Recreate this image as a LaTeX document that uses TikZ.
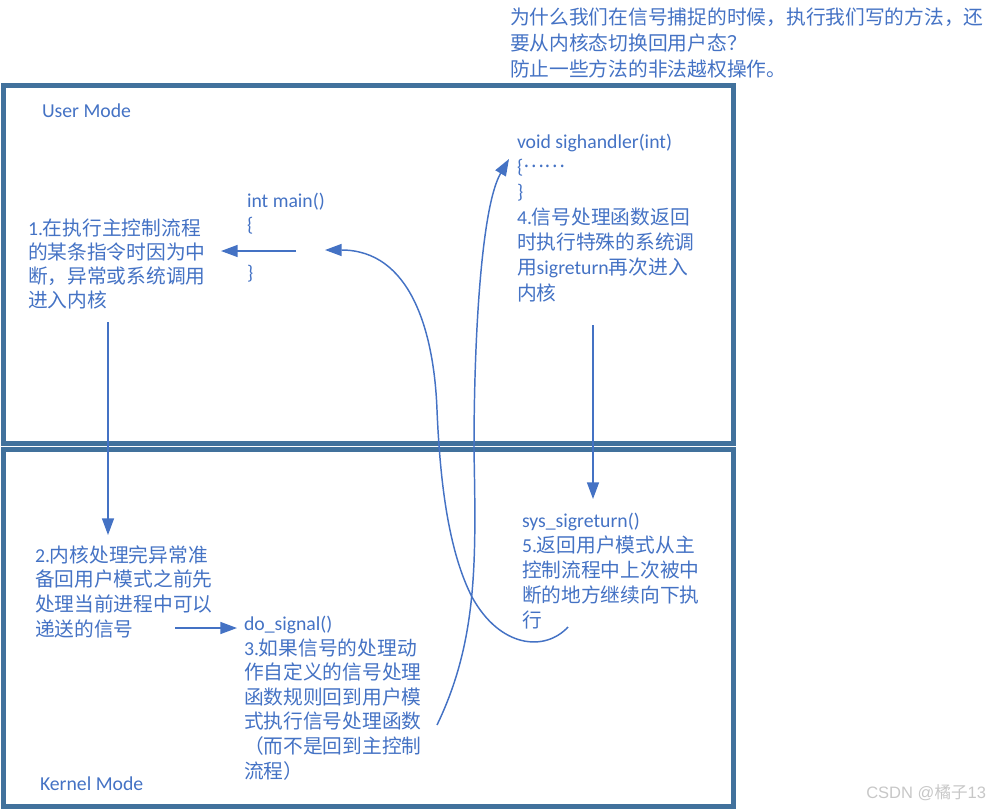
\documentclass[tikz,border=0pt]{standalone}
\usepackage{fontspec}
\setmainfont{Carlito}
\newfontfamily\cjk{Noto Sans CJK SC}
\newfontfamily\wmfont{Liberation Sans}
\usetikzlibrary{arrows.meta}
\definecolor{txtblue}{HTML}{4472C4}
\definecolor{boxblue}{HTML}{41719C}
\newcommand\zh[1]{{\cjk #1}}
\begin{document}
\begin{tikzpicture}[x=0.75pt,y=-0.75pt,
  txt/.style={anchor=base west, inner sep=0pt, outer sep=0pt, text=txtblue, align=left,
    font=\fontsize{14.8pt}{18pt}\selectfont},
  modebox/.style={draw=boxblue, line width=3.75pt},
  arr/.style={draw=txtblue, line width=1.1pt, -{Triangle[length=12.5pt,width=9pt]}}]
\useasboundingbox (0,0) rectangle (999,810);
% mode boxes
\draw[modebox] (3.5,85.5) rectangle (733.5,443.5);
\draw[modebox] (3.5,449.5) rectangle (733.5,806.5);
% texts (base anchor = baseline of the last line)
\node[txt, font=\fontsize{14.8pt}{19.5pt}\selectfont] (q) at (510,76)
  {\zh{为什么我们在信号捕捉的时候，执行我们写的方法，还}\\\zh{要从内核态切换回用户态？}\\\zh{防止一些方法的非法越权操作。}};
\node[txt] (um) at (42,117) {User Mode};
\node[txt] (km) at (40,790) {Kernel Mode};
\node[txt] (main) at (247,279) {int main()\\\{\\~\\\}};
\node[txt] (s1) at (28,307)
  {1.\zh{在执行主控制流程}\\\zh{的某条指令时因为中}\\\zh{断，异常或系统调用}\\\zh{进入内核}};
\node[txt, font=\fontsize{14.8pt}{18.5pt}\selectfont] (s2) at (35,636)
  {2.\zh{内核处理完异常准}\\\zh{备回用户模式之前先}\\\zh{处理当前进程中可以}\\\zh{递送的信号}};
\node[txt, font=\fontsize{14.8pt}{18.4pt}\selectfont] (s3) at (244,778)
  {do\_signal()\\3.\zh{如果信号的处理动}\\\zh{作自定义的信号处理}\\\zh{函数规则回到用户模}\\\zh{式执行信号处理函数}\\\zh{（而不是回到主控制}\\\zh{流程）}};
\node[txt, font=\fontsize{14.8pt}{19pt}\selectfont] (s4) at (517,300)
  {void sighandler(int)\\\{\raisebox{0.3em}{\zh{……}}\\\}\\4.\zh{信号处理函数返回}\\\zh{时执行特殊的系统调}\\\zh{用}sigreturn\zh{再次进入}\\\zh{内核}};
\node[txt, font=\fontsize{14.8pt}{18.75pt}\selectfont] (s5) at (522,627)
  {sys\_sigreturn()\\5.\zh{返回用户模式从主}\\\zh{控制流程中上次被中}\\\zh{断的地方继续向下执}\\\zh{行}};
\node[anchor=base west, inner sep=0pt, text=black!22, font=\wmfont\fontsize{12.4pt}{14pt}\selectfont] (wm) at (866,798) {CSDN @\zh{橘子}13};
% connector end points
\coordinate (a1s) at (296,251);
\coordinate (a1e) at (221,251);
\coordinate (a2s) at (108,322);
\coordinate (a2e) at (108,535);
\coordinate (a3s) at (175,628);
\coordinate (a3e) at (237,628);
\coordinate (a4s) at (593,325);
\coordinate (a4e) at (593,499);
\coordinate (c1s) at (568,627);
\coordinate (c1e) at (325,250);
\coordinate (c2s) at (437,725);
\coordinate (c2e) at (509,159);
% connectors
\draw[arr] (a1s) -- (a1e);
\draw[arr] (a2s) -- (a2e);
\draw[arr] (a3s) -- (a3e);
\draw[arr] (a4s) -- (a4e);
\draw[arr] (c1s) .. controls (545,652) and (500,648) .. (472,597)
  .. controls (448,550) and (440,480) .. (437,410)
  .. controls (434,330) and (410,250) .. (c1e);
\draw[arr] (c2s) .. controls (478,640) and (476,560) .. (474,450)
  .. controls (474,330) and (482,205) .. (c2e);
\end{tikzpicture}
\end{document}
